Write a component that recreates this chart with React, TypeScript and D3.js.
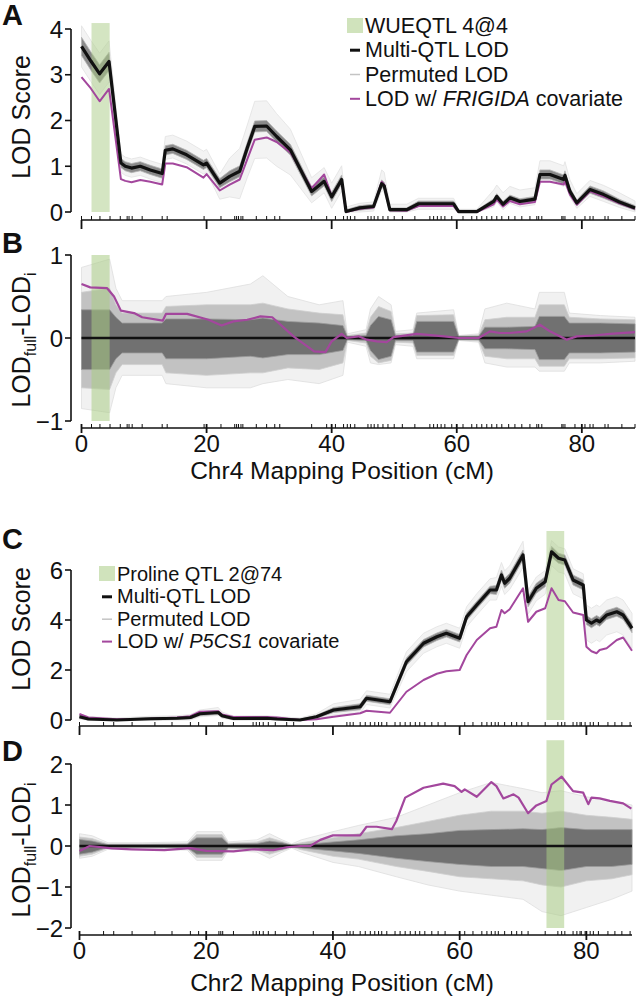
import React from 'react';
import * as d3 from 'd3';

const FONT = "'Liberation Sans', Arial, Helvetica, sans-serif";
const PURPLE = '#a3479d';
const GREEN = '#a9cc85';

// ---------------- Chr4 (panels A, B) ----------------
const posA = [0, 1.5, 2.9, 4.4, 6.3, 7.0, 8.0, 9.4, 11.0, 12.9, 13.4, 14.6, 16.8, 19.5, 20.0, 22.1, 23.7, 25.3, 26.5, 27.7, 29.6, 31.2, 33.4, 36.8, 38.8, 40.0, 41.6, 42.3, 44.5, 46.7, 48.0, 48.4, 49.3, 52.0, 53.9, 59.5, 60.3, 63.2, 65.9, 66.4, 67.4, 68.5, 70.1, 72.5, 73.3, 74.9, 77.1, 77.3, 78.1, 79.2, 81.3, 83.5, 86.0, 88.5];
const lodA = [3.62, 3.3, 3.02, 3.29, 1.07, 1.0, 0.96, 1.0, 0.92, 0.84, 1.35, 1.38, 1.25, 1.03, 1.07, 0.63, 0.78, 0.89, 1.4, 1.87, 1.88, 1.65, 1.36, 0.45, 0.67, 0.33, 0.71, 0.01, 0.09, 0.12, 0.62, 0.57, 0.05, 0.05, 0.18, 0.18, 0.01, 0.01, 0.23, 0.34, 0.17, 0.31, 0.23, 0.28, 0.82, 0.82, 0.71, 0.8, 0.45, 0.2, 0.49, 0.38, 0.22, 0.09];
const frigidaA = [2.95, 2.7, 2.42, 2.69, 0.72, 0.68, 0.65, 0.7, 0.66, 0.6, 1.06, 1.06, 0.98, 0.75, 0.83, 0.47, 0.6, 0.71, 1.15, 1.58, 1.63, 1.53, 1.3, 0.52, 0.82, 0.35, 0.68, 0.0, 0.07, 0.1, 0.66, 0.6, 0.04, 0.03, 0.13, 0.13, 0.0, 0.0, 0.17, 0.27, 0.12, 0.24, 0.17, 0.22, 0.66, 0.66, 0.6, 0.67, 0.38, 0.16, 0.45, 0.34, 0.19, 0.07];
// permuted LOD spread around the multi-QTL curve (dense core and faint extremes)
const permCoreA = [0.2, 0.2, 0.2, 0.2, 0.1, 0.1, 0.1, 0.1, 0.1, 0.1, 0.1, 0.1, 0.1, 0.1, 0.1, 0.1, 0.12, 0.12, 0.12, 0.12, 0.12, 0.12, 0.12, 0.1, 0.1, 0.1, 0.1, 0.04, 0.05, 0.05, 0.08, 0.08, 0.04, 0.04, 0.06, 0.06, 0.03, 0.03, 0.06, 0.06, 0.06, 0.06, 0.06, 0.06, 0.1, 0.1, 0.1, 0.1, 0.08, 0.06, 0.08, 0.08, 0.06, 0.05];
const permUpA = [0.45, 0.45, 0.45, 0.45, 0.2, 0.2, 0.2, 0.2, 0.2, 0.2, 0.3, 0.3, 0.3, 0.3, 0.3, 0.2, 0.4, 0.5, 0.5, 0.55, 0.55, 0.5, 0.45, 0.3, 0.3, 0.3, 0.3, 0.1, 0.1, 0.1, 0.3, 0.3, 0.12, 0.12, 0.12, 0.12, 0.05, 0.05, 0.25, 0.25, 0.25, 0.25, 0.25, 0.25, 0.3, 0.3, 0.3, 0.3, 0.25, 0.2, 0.2, 0.2, 0.2, 0.15];
const permDnA = [0.45, 0.45, 0.45, 0.45, 0.2, 0.2, 0.2, 0.2, 0.2, 0.2, 0.2, 0.2, 0.2, 0.2, 0.2, 0.35, 0.45, 0.6, 0.65, 0.7, 0.7, 0.65, 0.55, 0.25, 0.25, 0.25, 0.25, 0.05, 0.1, 0.1, 0.15, 0.15, 0.05, 0.05, 0.12, 0.12, 0.05, 0.05, 0.12, 0.12, 0.12, 0.12, 0.12, 0.12, 0.15, 0.15, 0.15, 0.15, 0.12, 0.12, 0.15, 0.15, 0.12, 0.1];

const posB = [0, 1.4, 4.1, 5.2, 6.3, 8.4, 9.7, 13.0, 13.5, 16.9, 20.3, 22.4, 24.3, 26.5, 28.6, 30.5, 33.9, 37.2, 39.0, 40.0, 41.6, 42.4, 44.3, 45.6, 47.2, 48.8, 49.9, 53.6, 58.0, 60.3, 63.5, 65.3, 66.9, 68.5, 71.2, 73.3, 74.9, 77.6, 79.2, 81.9, 84.5, 88.5];
const frigidaB = [0.65, 0.61, 0.6, 0.5, 0.33, 0.3, 0.25, 0.21, 0.29, 0.29, 0.22, 0.15, 0.2, 0.22, 0.26, 0.25, 0.02, -0.16, -0.17, -0.04, 0.05, 0.0, 0.02, -0.02, -0.04, -0.05, 0.01, 0.05, 0.02, 0.0, 0.0, 0.08, 0.06, 0.06, 0.08, 0.16, 0.08, -0.02, 0.02, 0.03, 0.05, 0.07];
const bandPosB = [0, 4.5, 5.5, 6.5, 12.9, 13.5, 20, 27, 29, 33, 38, 41.8, 42.5, 45.5, 46.2, 47.5, 49.5, 50.2, 53, 53.6, 59.5, 60.3, 63.5, 64.5, 68, 72.5, 73.2, 77.2, 78, 83, 88.5];
const coreHiB = [0.34, 0.34, 0.25, 0.18, 0.18, 0.23, 0.23, 0.22, 0.24, 0.2, 0.18, 0.15, 0.02, 0.03, 0.15, 0.26, 0.22, 0.03, 0.03, 0.2, 0.2, 0.02, 0.02, 0.13, 0.13, 0.14, 0.26, 0.26, 0.18, 0.18, 0.17];
const coreLoB = [-0.38, -0.38, -0.25, -0.18, -0.18, -0.25, -0.25, -0.22, -0.24, -0.2, -0.2, -0.15, -0.02, -0.03, -0.15, -0.26, -0.22, -0.03, -0.03, -0.17, -0.17, -0.02, -0.02, -0.13, -0.13, -0.14, -0.26, -0.26, -0.18, -0.18, -0.17];
const midHiB = [0.55, 0.6, 0.4, 0.3, 0.3, 0.38, 0.4, 0.4, 0.42, 0.35, 0.3, 0.28, 0.03, 0.06, 0.25, 0.38, 0.32, 0.05, 0.06, 0.27, 0.28, 0.025, 0.035, 0.22, 0.25, 0.25, 0.4, 0.4, 0.25, 0.23, 0.22];
const midLoB = [-0.6, -0.62, -0.42, -0.32, -0.32, -0.42, -0.45, -0.42, -0.42, -0.36, -0.38, -0.3, -0.03, -0.06, -0.22, -0.3, -0.27, -0.05, -0.06, -0.21, -0.21, -0.025, -0.035, -0.22, -0.25, -0.25, -0.34, -0.34, -0.25, -0.25, -0.24];
const outerHiB = [0.85, 0.95, 0.6, 0.45, 0.45, 0.5, 0.55, 0.65, 0.75, 0.5, 0.4, 0.45, 0.05, 0.1, 0.35, 0.5, 0.4, 0.08, 0.1, 0.3, 0.34, 0.03, 0.05, 0.35, 0.42, 0.35, 0.55, 0.55, 0.3, 0.27, 0.25];
const outerLoB = [-0.85, -0.9, -0.6, -0.45, -0.45, -0.55, -0.6, -0.6, -0.55, -0.5, -0.55, -0.45, -0.05, -0.1, -0.3, -0.32, -0.3, -0.08, -0.1, -0.25, -0.25, -0.03, -0.05, -0.3, -0.35, -0.35, -0.4, -0.4, -0.3, -0.3, -0.28];

const markersChr4 = [0, 1.6, 2.95, 4.56, 6.2, 7.3, 7.6, 8.1, 9.7, 12.9, 13.7, 19.6, 22.3, 24.5, 24.8, 25.1, 25.5, 25.8, 27.95, 29.6, 30.9, 31.7, 36.8, 39.2, 40.6, 41.9, 42.5, 43.0, 43.7, 45.8, 46.3, 46.8, 47.4, 48.2, 49.0, 50.0, 51.3, 53.3, 55.7, 56.3, 56.9, 57.5, 58.1, 59.2, 61.0, 62.4, 63.2, 64, 64.8, 65.6, 66.4, 67.2, 68.3, 69.3, 70.4, 71.7, 72.8, 73.1, 73.6, 76.8, 77.0, 77.3, 78.9, 80.5, 81.3, 81.8, 83.7, 84.2, 86.4, 88.5];
const qtlChr4 = [1.6, 4.5];

// ---------------- Chr2 (panels C, D) ----------------
const posC = [0, 1.4, 5.9, 11.2, 15.4, 17.5, 19.0, 21.9, 22.5, 24.3, 29.6, 31.2, 34.8, 37.4, 40.1, 44.3, 45.3, 49.0, 51.6, 54.3, 56.4, 57.9, 60.0, 61.1, 62.7, 64.8, 65.8, 66.6, 67.1, 67.9, 70.0, 70.8, 72.1, 73.5, 74.5, 75.6, 76.6, 77.9, 79.5, 80.0, 80.8, 81.6, 82.1, 83.2, 84.8, 85.8, 87.2];
const lodC = [0.13, 0.04, 0.0, 0.05, 0.07, 0.1, 0.25, 0.3, 0.17, 0.06, 0.07, 0.04, 0.0, 0.13, 0.4, 0.53, 0.87, 0.73, 2.33, 3.07, 3.33, 3.47, 3.27, 4.13, 4.6, 5.2, 5.2, 5.8, 5.47, 5.67, 6.6, 4.73, 5.27, 5.53, 6.73, 6.47, 6.4, 5.6, 5.4, 4.0, 3.87, 4.0, 3.93, 4.2, 4.33, 4.2, 3.67];
const p5cs1C = [0.24, 0.1, 0.03, 0.05, 0.1, 0.15, 0.33, 0.35, 0.22, 0.12, 0.12, 0.1, 0.0, 0.03, 0.13, 0.27, 0.37, 0.29, 1.13, 1.6, 1.85, 1.95, 2.0, 2.6, 3.2, 3.67, 3.73, 4.4, 4.27, 4.43, 5.27, 3.93, 4.33, 4.47, 5.27, 4.8, 4.75, 4.3, 4.2, 2.93, 2.75, 2.67, 2.8, 2.87, 3.2, 3.3, 2.77];
const permCoreC = [0.06, 0.05, 0.04, 0.05, 0.05, 0.06, 0.08, 0.08, 0.06, 0.05, 0.05, 0.05, 0.04, 0.06, 0.1, 0.12, 0.12, 0.12, 0.15, 0.15, 0.15, 0.15, 0.15, 0.15, 0.15, 0.15, 0.18, 0.2, 0.2, 0.2, 0.2, 0.2, 0.2, 0.2, 0.22, 0.2, 0.2, 0.2, 0.2, 0.18, 0.18, 0.18, 0.18, 0.18, 0.18, 0.18, 0.18];
const permUpC = [0.12, 0.1, 0.08, 0.1, 0.1, 0.12, 0.15, 0.2, 0.15, 0.1, 0.1, 0.1, 0.08, 0.12, 0.25, 0.3, 0.3, 0.3, 0.4, 0.4, 0.4, 0.4, 0.4, 0.4, 0.45, 0.45, 0.5, 0.5, 0.5, 0.5, 0.55, 0.45, 0.45, 0.45, 0.45, 0.45, 0.45, 0.45, 0.45, 0.6, 0.6, 0.6, 0.6, 0.6, 0.6, 0.6, 0.6];
const permDnC = [0.1, 0.04, 0.0, 0.05, 0.07, 0.1, 0.12, 0.12, 0.1, 0.06, 0.07, 0.04, 0.0, 0.1, 0.2, 0.25, 0.25, 0.25, 0.4, 0.4, 0.4, 0.4, 0.4, 0.4, 0.4, 0.4, 0.4, 0.45, 0.45, 0.45, 0.5, 0.5, 0.5, 0.5, 0.55, 0.55, 0.55, 0.55, 0.55, 0.8, 0.8, 0.8, 0.8, 0.8, 0.8, 0.8, 0.8];

const posD = [0, 1.6, 5.1, 8.2, 13.4, 17.5, 20.0, 24.3, 27.5, 30.6, 32.7, 34.8, 36.4, 38.0, 40.0, 44.3, 45.3, 46.9, 49.3, 50.0, 51.4, 54.3, 57.4, 59.2, 60.3, 60.8, 62.7, 65.0, 65.8, 66.9, 68.5, 69.3, 70.8, 72.1, 73.7, 74.5, 76.1, 77.9, 79.5, 80.3, 80.8, 82.1, 83.7, 85.8, 87.1];
const p5cs1D = [-0.12, 0, -0.06, -0.08, -0.1, -0.05, -0.12, -0.13, -0.08, -0.1, -0.03, 0, 0, 0.15, 0.26, 0.26, 0.47, 0.47, 0.41, 0.61, 1.18, 1.42, 1.52, 1.46, 1.32, 1.38, 1.2, 1.56, 1.46, 1.16, 1.26, 1.18, 0.8, 0.99, 1.1, 1.5, 1.69, 1.34, 1.3, 1.02, 1.18, 1.16, 1.1, 1.04, 0.91];
const bandPosD = [0, 2, 4.5, 10, 17, 18.5, 22.5, 23.5, 28, 30, 32, 33.5, 35, 40, 44, 50, 55, 60, 65, 70, 73, 76, 80, 84, 87.2];
const coreHiD = [0.16, 0.12, 0.03, 0.03, 0.04, 0.2, 0.2, 0.05, 0.06, 0.12, 0.08, 0.02, 0.03, 0.1, 0.15, 0.25, 0.3, 0.38, 0.4, 0.42, 0.4, 0.45, 0.4, 0.4, 0.4];
const coreLoD = [-0.2, -0.15, -0.03, -0.03, -0.04, -0.2, -0.2, -0.05, -0.06, -0.12, -0.08, -0.02, -0.05, -0.12, -0.18, -0.3, -0.38, -0.45, -0.5, -0.5, -0.55, -0.6, -0.5, -0.5, -0.45];
const midHiD = [0.22, 0.18, 0.05, 0.05, 0.06, 0.28, 0.28, 0.07, 0.1, 0.2, 0.11, 0.03, 0.08, 0.2, 0.3, 0.45, 0.6, 0.75, 0.85, 0.85, 0.8, 0.85, 0.75, 0.7, 0.65];
const midLoD = [-0.25, -0.2, -0.05, -0.05, -0.06, -0.28, -0.28, -0.07, -0.1, -0.2, -0.11, -0.03, -0.09, -0.25, -0.32, -0.5, -0.62, -0.75, -0.8, -0.85, -0.95, -1.0, -0.85, -0.8, -0.7];
const outerHiD = [0.3, 0.25, 0.08, 0.08, 0.1, 0.35, 0.35, 0.1, 0.15, 0.3, 0.15, 0.05, 0.15, 0.35, 0.5, 0.7, 1.0, 1.3, 1.55, 1.4, 1.3, 1.35, 1.2, 1.1, 1.0];
const outerLoD = [-0.3, -0.25, -0.08, -0.08, -0.1, -0.35, -0.35, -0.1, -0.15, -0.3, -0.15, -0.05, -0.15, -0.4, -0.5, -0.75, -0.95, -1.1, -1.2, -1.3, -1.6, -1.7, -1.5, -1.3, -1.1];

const markersChr2 = [0, 3.8, 5.4, 8.3, 11.9, 14.6, 17.5, 18.8, 22.0, 22.3, 22.6, 24.3, 27.4, 27.9, 28.4, 29.0, 29.8, 30.9, 32.7, 33.8, 36.9, 42.2, 42.7, 43.2, 44.3, 45.1, 45.9, 46.6, 47.2, 47.7, 48.5, 49.8, 50.6, 51.4, 52.2, 53.0, 53.7, 54.5, 55.6, 56.6, 57.7, 60.8, 62.1, 63.5, 64.3, 65.0, 65.6, 66.1, 67.1, 68.2, 69.0, 69.8, 70.8, 73.5, 75.5, 76.1, 76.6, 77.9, 78.5, 79.0, 79.2, 79.8, 80.6, 81.1, 81.9, 83.4, 84.5, 85.6, 86.9];
const qtlChr2 = [73.7, 76.5];

const xMajor = [0, 20, 40, 60, 80];
const yTicksA = [0, 1, 2, 3, 4];
const yTicksB = [-1, 0, 1];
const yTicksC = [0, 2, 4, 6];
const yTicksD = [-2, -1, 0, 1, 2];

// ---------------- scales ----------------
const x4 = d3.scaleLinear().domain([0, 88.5]).range([81.5, 635]);
const x2 = d3.scaleLinear().domain([0, 87.2]).range([79.5, 632]);
const yA = d3.scaleLinear().domain([0, 4]).range([212, 29]);
const yB = d3.scaleLinear().domain([-1, 1]).range([421, 255]);
const yC = d3.scaleLinear().domain([0, 6]).range([720, 570]);
const yD = d3.scaleLinear().domain([-2, 2]).range([928, 764]);

type Sc = d3.ScaleLinear<number, number>;

function linePath(xs: number[], ys: number[], sx: Sc, sy: Sc) {
  return d3.line<number>().x((_, i) => sx(xs[i])).y((d) => sy(d))(ys) || '';
}
function areaPath(xs: number[], lo: number[], hi: number[], sx: Sc, sy: Sc) {
  return (
    d3
      .area<number>()
      .x((d) => sx(d))
      .y0((_, i) => sy(lo[i]))
      .y1((_, i) => sy(hi[i]))(xs) || ''
  );
}

function YAxis({ sy, ticks, x = 71 }: { sy: Sc; ticks: number[]; x?: number }) {
  const [d0, d1] = d3.extent(ticks) as [number, number];
  return (
    <g>
      <line x1={x} x2={x} y1={sy(d0)} y2={sy(d1)} stroke="#111" strokeWidth={1.6} />
      {ticks.map((t) => (
        <g key={t}>
          <line x1={x - 6} x2={x} y1={sy(t)} y2={sy(t)} stroke="#111" strokeWidth={1.6} />
          <text x={x - 8} y={sy(t)} dy="0.36em" textAnchor="end" fontSize={24} fontFamily={FONT} fill="#111">
            {t < 0 ? '\u2212' + Math.abs(t) : String(t)}
          </text>
        </g>
      ))}
    </g>
  );
}

function XAxis({ sx, y, markers, labels }: { sx: Sc; y: number; markers: number[]; labels: boolean }) {
  const [r0, r1] = sx.range();
  return (
    <g>
      <line x1={r0} x2={r1} y1={y} y2={y} stroke="#111" strokeWidth={1.6} />
      {markers.map((m, i) => (
        <line key={i} x1={sx(m)} x2={sx(m)} y1={y - 4} y2={y} stroke="#111" strokeWidth={1} />
      ))}
      {xMajor.map((t) => (
        <g key={t}>
          <line x1={sx(t)} x2={sx(t)} y1={labels ? y - 4 : y} y2={labels ? y + 5 : y + 9} stroke="#111" strokeWidth={1.8} />
          {labels && (
            <text x={sx(t)} y={y + 15} dy="0.36em" textAnchor="middle" fontSize={24} fontFamily={FONT} fill="#111">
              {t}
            </text>
          )}
        </g>
      ))}
    </g>
  );
}

function LodPanel({
  sx, sy, pos, lod, cov, core, up, dn, qtl, qtlTop,
}: {
  sx: Sc; sy: Sc; pos: number[]; lod: number[]; cov: number[]; core: number[]; up: number[]; dn: number[]; qtl: number[]; qtlTop: number;
}) {
  const outerHi = lod.map((v, i) => v + up[i]);
  const outerLo = lod.map((v, i) => Math.max(0, v - dn[i]));
  const coreHi = lod.map((v, i) => v + core[i]);
  const coreLo = lod.map((v, i) => Math.max(0, v - core[i]));
  return (
    <g>
      <path d={areaPath(pos, outerLo, outerHi, sx, sy)} fill="#f3f3f3" stroke="#e2e2e2" strokeWidth={0.8} />
      <path d={areaPath(pos, coreLo, coreHi, sx, sy)} fill="#8a8a8a" stroke="#b5b5b5" strokeWidth={0.8} />
      <rect x={sx(qtl[0])} width={sx(qtl[1]) - sx(qtl[0])} y={sy(qtlTop)} height={sy(0) - sy(qtlTop)} fill={GREEN} opacity={0.5} />
      <path d={linePath(pos, cov, sx, sy)} fill="none" stroke={PURPLE} strokeWidth={2} strokeLinejoin="round" />
      <path d={linePath(pos, lod, sx, sy)} fill="none" stroke="#111" strokeWidth={3.2} strokeLinejoin="round" />
    </g>
  );
}

function DiffPanel({
  sx, sy, bandPos, cHi, cLo, mHi, mLo, oHi, oLo, pos, cov, qtl, qtlTop, qtlBottom,
}: {
  sx: Sc; sy: Sc; bandPos: number[]; cHi: number[]; cLo: number[]; mHi: number[]; mLo: number[]; oHi: number[]; oLo: number[]; pos: number[]; cov: number[]; qtl: number[]; qtlTop: number; qtlBottom: number;
}) {
  const [d0, d1] = sx.domain();
  return (
    <g>
      <path d={areaPath(bandPos, oLo, oHi, sx, sy)} fill="#f1f1f1" stroke="#dedede" strokeWidth={0.8} />
      <path d={areaPath(bandPos, mLo, mHi, sx, sy)} fill="#c2c2c2" stroke="#cfcfcf" strokeWidth={0.8} />
      <path d={areaPath(bandPos, cLo, cHi, sx, sy)} fill="#717171" stroke="#9a9a9a" strokeWidth={0.8} />
      <rect x={sx(qtl[0])} width={sx(qtl[1]) - sx(qtl[0])} y={sy(qtlTop)} height={sy(qtlBottom) - sy(qtlTop)} fill={GREEN} opacity={0.55} />
      <line x1={sx(d0)} x2={sx(d1)} y1={sy(0)} y2={sy(0)} stroke="#111" strokeWidth={2.6} />
      <path d={linePath(pos, cov, sx, sy)} fill="none" stroke={PURPLE} strokeWidth={2.2} strokeLinejoin="round" />
    </g>
  );
}

function Legend({ x, y, gap, fs, qtlName, gene }: { x: number; y: number; gap: number; fs: number; qtlName: string; gene: string }) {
  const mid = fs * 0.33;
  return (
    <g fontFamily={FONT} fontSize={fs} fill="#111">
      <rect x={x} y={y - 15} width={16} height={15} fill={GREEN} opacity={0.55} />
      <text x={x + 18} y={y}>{qtlName}</text>
      <line x1={x + 3} x2={x + 13} y1={y + gap - mid} y2={y + gap - mid} stroke="#111" strokeWidth={3} />
      <text x={x + 18} y={y + gap}>Multi-QTL LOD</text>
      <line x1={x + 3} x2={x + 13} y1={y + 2 * gap - mid} y2={y + 2 * gap - mid} stroke="#c4c4c4" strokeWidth={1.5} />
      <text x={x + 18} y={y + 2 * gap}>Permuted LOD</text>
      <line x1={x + 3} x2={x + 13} y1={y + 3 * gap - mid} y2={y + 3 * gap - mid} stroke={PURPLE} strokeWidth={2} />
      <text x={x + 18} y={y + 3 * gap}>
        LOD w/ <tspan fontStyle="italic">{gene}</tspan> covariate
      </text>
    </g>
  );
}

function DiffLabel({ cx, cy }: { cx: number; cy: number }) {
  return (
    <text transform={`translate(${cx},${cy}) rotate(-90)`} textAnchor="middle" fontFamily={FONT} fontSize={25} fill="#111">
      LOD
      <tspan fontSize={16} dy={6}>full</tspan>
      <tspan dy={-6}>-LOD</tspan>
      <tspan fontSize={16} dy={6}>i</tspan>
    </text>
  );
}

function PanelLetter({ x, y, t }: { x: number; y: number; t: string }) {
  return (
    <text x={x} y={y} fontFamily={FONT} fontWeight="bold" fontSize={29} fill="#111">
      {t}
    </text>
  );
}

export default function App() {
  return (
    <svg width={642} height={1005} style={{ position: 'absolute', left: 0, top: 0, background: '#fff' }}>
      <rect width={642} height={1005} fill="#fff" />
      {/* Panel A */}
      <LodPanel sx={x4} sy={yA} pos={posA} lod={lodA} cov={frigidaA} core={permCoreA} up={permUpA} dn={permDnA} qtl={qtlChr4} qtlTop={4.13} />
      <YAxis sy={yA} ticks={yTicksA} />
      <XAxis sx={x4} y={220} markers={markersChr4} labels={false} />
      <text transform="translate(30,117) rotate(-90)" textAnchor="middle" fontFamily={FONT} fontSize={25} fill="#111">LOD Score</text>
      <Legend x={347} y={33} gap={24.3} fs={21.5} qtlName="WUEQTL 4@4" gene="FRIGIDA" />
      <PanelLetter x={2} y={25} t="A" />

      {/* Panel B */}
      <DiffPanel sx={x4} sy={yB} bandPos={bandPosB} cHi={coreHiB} cLo={coreLoB} mHi={midHiB} mLo={midLoB} oHi={outerHiB} oLo={outerLoB} pos={posB} cov={frigidaB} qtl={qtlChr4} qtlTop={1} qtlBottom={-1} />
      <YAxis sy={yB} ticks={yTicksB} />
      <XAxis sx={x4} y={428} markers={markersChr4} labels={true} />
      <DiffLabel cx={30} cy={340} />
      <text x={342} y={479} textAnchor="middle" fontFamily={FONT} fontSize={24.5} fill="#111">Chr4 Mapping Position (cM)</text>
      <PanelLetter x={2} y={253} t="B" />

      {/* Panel C */}
      <LodPanel sx={x2} sy={yC} pos={posC} lod={lodC} cov={p5cs1C} core={permCoreC} up={permUpC} dn={permDnC} qtl={qtlChr2} qtlTop={7.56} />
      <YAxis sy={yC} ticks={yTicksC} />
      <XAxis sx={x2} y={726} markers={markersChr2} labels={false} />
      <text transform="translate(30,629) rotate(-90)" textAnchor="middle" fontFamily={FONT} fontSize={25} fill="#111">LOD Score</text>
      <Legend x={99} y={581} gap={22.4} fs={20} qtlName="Proline QTL 2@74" gene="P5CS1" />
      <PanelLetter x={2} y={549} t="C" />

      {/* Panel D */}
      <DiffPanel sx={x2} sy={yD} bandPos={bandPosD} cHi={coreHiD} cLo={coreLoD} mHi={midHiD} mLo={midLoD} oHi={outerHiD} oLo={outerLoD} pos={posD} cov={p5cs1D} qtl={qtlChr2} qtlTop={2.58} qtlBottom={-2} />
      <YAxis sy={yD} ticks={yTicksD} />
      <XAxis sx={x2} y={935} markers={markersChr2} labels={true} />
      <DiffLabel cx={30} cy={850} />
      <text x={342} y={991} textAnchor="middle" fontFamily={FONT} fontSize={24.5} fill="#111">Chr2 Mapping Position (cM)</text>
      <PanelLetter x={2} y={761} t="D" />
    </svg>
  );
}
